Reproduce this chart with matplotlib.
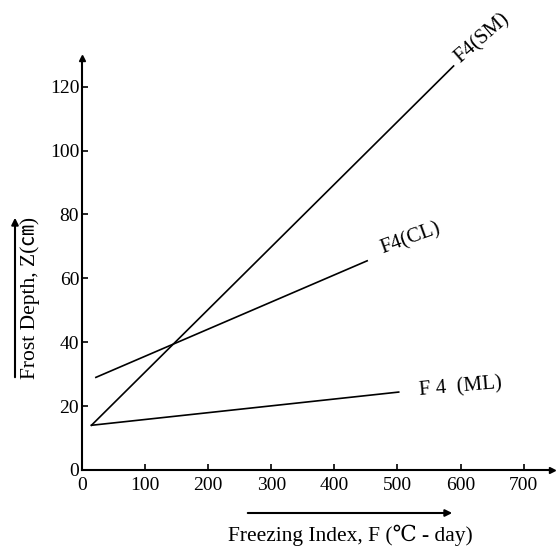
import matplotlib
matplotlib.use("Agg")
import matplotlib.pyplot as plt

# frost depth lines (freezing index in C-day, depth in cm)
sm_x = [15, 589]
sm_z = [14, 126.5]
cl_x = [22, 452]
cl_z = [29, 65.5]
ml_x = [15, 502]
ml_z = [14, 24.4]

x_ticks = [0, 100, 200, 300, 400, 500, 600, 700]
y_ticks = [0, 20, 40, 60, 80, 100, 120]

serif = ["Liberation Serif", "DejaVu Serif", "Noto Sans CJK JP"]
plt.rcParams["font.family"] = serif

fig = plt.figure(figsize=(5.57, 5.46), dpi=100)
ax = fig.add_axes([82 / 557, 76 / 546, 470 / 557, 412 / 546])

for xs, zs in [(sm_x, sm_z), (cl_x, cl_z), (ml_x, ml_z)]:
    ax.plot(xs, zs, color="black", lw=1.2)

ax.set_xlim(0, 745)
ax.set_ylim(0, 129)
ax.set_xticks(x_ticks)
ax.set_yticks(y_ticks)
ax.tick_params(direction="in", length=4, width=1.2, labelsize=14, colors="black")
ax.tick_params(axis="x", pad=5)
ax.tick_params(axis="y", pad=2)

for side in ("top", "right"):
    ax.spines[side].set_visible(False)
for side in ("left", "bottom"):
    ax.spines[side].set_linewidth(1.5)

# axis arrow heads
ax.plot(1, 0, ">k", ms=5, transform=ax.get_yaxis_transform(), clip_on=False)
ax.plot(0, 1, "^k", ms=5, transform=ax.get_xaxis_transform(), clip_on=False)

# curve labels
ax.text(635, 135, "F4(SM)", rotation=41, ha="center", va="center",
        fontsize=15, clip_on=False)
ax.text(521, 72.5, "F4(CL)", rotation=20, ha="center", va="center",
        fontsize=15)
ax.text(600, 26, "F 4  (ML)", rotation=5, ha="center", va="center",
        fontsize=15)

# axis titles with arrows
fig.text(350 / 557, 1 - 535 / 546, "Freezing Index, F (\u2103 - day)",
         ha="center", va="center", fontsize=15.5, family=serif)
fig.text(30 / 557, 1 - 298 / 546, "Frost Depth, Z(\u339d)", rotation=90,
         ha="center", va="center", fontsize=15.5, family=serif)
fig.patches.append(matplotlib.patches.FancyArrowPatch(
    (245 / 557, 1 - 513 / 546), (455 / 557, 1 - 513 / 546),
    transform=fig.transFigure, arrowstyle="-|>", mutation_scale=10,
    color="black", lw=1.5))
fig.patches.append(matplotlib.patches.FancyArrowPatch(
    (15 / 557, 1 - 380 / 546), (15 / 557, 1 - 215 / 546),
    transform=fig.transFigure, arrowstyle="-|>", mutation_scale=10,
    color="black", lw=1.5))

fig.savefig("out.png", dpi=100)
